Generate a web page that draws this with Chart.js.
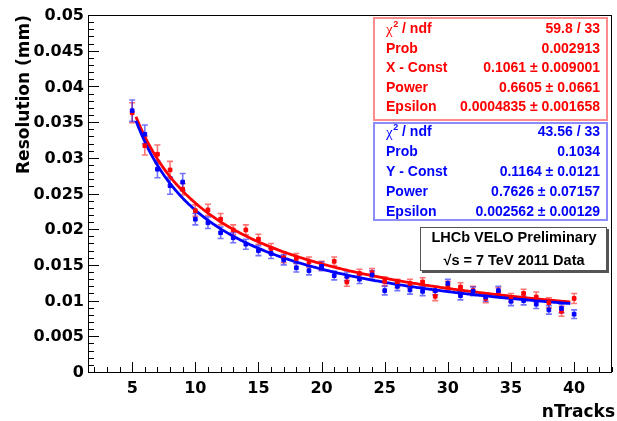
<!DOCTYPE html>
<html>
<head>
<meta charset="utf-8">
<script src="https://cdn.jsdelivr.net/npm/chart.js@4.4.1/dist/chart.umd.min.js"></script>
<style>
  html, body { margin: 0; padding: 0; background: #ffffff; }
  #c { display: block; }
</style>
</head>
<body>
<canvas id="c" width="617" height="421"></canvas>
<script>
// Track multiplicity per bin
const nTracks = [5, 6, 7, 8, 9, 10, 11, 12, 13, 14, 15, 16, 17, 18, 19, 20, 21, 22,
                 23, 24, 25, 26, 27, 28, 29, 30, 31, 32, 33, 34, 35, 36, 37, 38, 39, 40];

// X resolution (mm) and its uncertainty
const resX = [0.0363, 0.0317, 0.0305, 0.0283, 0.0256, 0.0226, 0.0227, 0.0214, 0.0199, 0.0199,
              0.0186, 0.0173, 0.0160, 0.0159, 0.0154, 0.0149, 0.0155, 0.0126, 0.0138, 0.0139,
              0.0127, 0.0124, 0.0124, 0.0126, 0.0106, 0.0121, 0.0119, 0.0114, 0.0103, 0.0112,
              0.0104, 0.0110, 0.0105, 0.0097, 0.0085, 0.0103];
const errX = [0.0014, 0.0013, 0.0013, 0.0012, 0.0008, 0.0008, 0.0008, 0.0008, 0.0007, 0.0007,
              0.0007, 0.0007, 0.0007, 0.0007, 0.0007, 0.0006, 0.0006, 0.0006, 0.0006, 0.0006,
              0.0006, 0.0006, 0.0006, 0.0006, 0.0006, 0.0006, 0.0006, 0.0006, 0.0006, 0.0006,
              0.0006, 0.0006, 0.0007, 0.0007, 0.0007, 0.0007];

// Y resolution (mm) and its uncertainty
const resY = [0.0366, 0.0333, 0.0284, 0.0261, 0.0266, 0.0214, 0.0209, 0.0195, 0.0188, 0.0179,
              0.0170, 0.0166, 0.0157, 0.0146, 0.0142, 0.0148, 0.0135, 0.0134, 0.0130, 0.0136,
              0.0114, 0.0120, 0.0115, 0.0113, 0.0114, 0.0124, 0.0107, 0.0113, 0.0105, 0.0114,
              0.0099, 0.0100, 0.0095, 0.0087, 0.0089, 0.0081];
const errY = [0.0015, 0.0013, 0.0012, 0.0012, 0.0012, 0.0008, 0.0008, 0.0008, 0.0007, 0.0007,
              0.0007, 0.0007, 0.0007, 0.0006, 0.0006, 0.0006, 0.0006, 0.0006, 0.0006, 0.0006,
              0.0006, 0.0006, 0.0006, 0.0006, 0.0006, 0.0006, 0.0006, 0.0006, 0.0006, 0.0006,
              0.0006, 0.0006, 0.0006, 0.0006, 0.0006, 0.0006];

// Axis ticks and labels
const xTicks = [5, 10, 15, 20, 25, 30, 35, 40];
const yTicks = [0, 0.005, 0.01, 0.015, 0.02, 0.025, 0.03, 0.035, 0.04, 0.045, 0.05];
const yTickLabels = ['0', '0.005', '0.01', '0.015', '0.02', '0.025', '0.03', '0.035', '0.04', '0.045', '0.05'];

// Fit results: sigma(n) = Const * n^(-Power) + Epsilon
const fitX = { chi2: '59.8 / 33', prob: '0.002913', c: 0.1061, cErr: 0.009001, p: 0.6605, pErr: 0.0661, e: 0.0004835, eErr: 0.001658 };
const fitY = { chi2: '43.56 / 33', prob: '0.1034', c: 0.1164, cErr: 0.0121, p: 0.7626, pErr: 0.07157, e: 0.002562, eErr: 0.00129 };
const fitRange = [5.3, 39.7];

const RED = '#ff0000';
const BLUE = '#0000ff';

function fitCurve(f) {
  const pts = [];
  for (let x = fitRange[0]; x <= fitRange[1] + 1e-9; x += 0.1) {
    pts.push({ x: x, y: f.c * Math.pow(x, -f.p) + f.e });
  }
  return pts;
}
function points(vals) {
  return nTracks.map((n, i) => ({ x: n, y: vals[i] }));
}

// Vertical error bars with end caps
const errorBars = {
  id: 'errorBars',
  beforeDatasetsDraw(chart) {
    const ctx = chart.ctx, xs = chart.scales.x, ys = chart.scales.y;
    const series = [[resX, errX, 'rgba(255,0,0,0.55)'], [resY, errY, 'rgba(0,0,255,0.55)']];
    ctx.save();
    ctx.lineWidth = 1.6;
    for (const [vals, errs, col] of series) {
      ctx.strokeStyle = col;
      nTracks.forEach((n, i) => {
        const px = xs.getPixelForValue(n);
        const y1 = ys.getPixelForValue(vals[i] - errs[i]);
        const y2 = ys.getPixelForValue(vals[i] + errs[i]);
        ctx.beginPath();
        ctx.moveTo(px, y1); ctx.lineTo(px, y2);
        ctx.moveTo(px - 3, y1); ctx.lineTo(px + 3, y1);
        ctx.moveTo(px - 3, y2); ctx.lineTo(px + 3, y2);
        ctx.stroke();
      });
    }
    ctx.restore();
  }
};

function pmText(v, err) { return v + ' \u00b1 ' + err; }

// Frame, axes, tick labels, titles and text boxes
const decorations = {
  id: 'decorations',
  afterDraw(chart) {
    const ctx = chart.ctx, xs = chart.scales.x, ys = chart.scales.y;
    const a = chart.chartArea;
    ctx.save();

    // frame
    ctx.strokeStyle = '#000';
    ctx.lineWidth = 1;
    ctx.strokeRect(Math.round(a.left) + 0.5, Math.round(a.top) + 0.5,
                   Math.round(a.right - a.left) - 1, Math.round(a.bottom - a.top));

    // x ticks (inward)
    ctx.beginPath();
    for (let v = 2; v <= 43; v++) {
      const px = Math.round(xs.getPixelForValue(v)) + 0.5;
      const len = xTicks.includes(v) ? 10 : 5;
      ctx.moveTo(px, a.bottom); ctx.lineTo(px, a.bottom - len);
    }
    // y ticks (inward)
    for (let k = 0; k <= 50; k++) {
      const v = k * 0.001;
      const py = Math.round(ys.getPixelForValue(v)) + 0.5;
      const len = k % 5 === 0 ? 11 : 6;
      ctx.moveTo(a.left, py); ctx.lineTo(a.left + len, py);
    }
    ctx.stroke();

    // tick labels
    ctx.fillStyle = '#000';
    ctx.font = 'bold 16px "DejaVu Sans"';
    ctx.textAlign = 'center';
    ctx.textBaseline = 'middle';
    xTicks.forEach(v => ctx.fillText(String(v), xs.getPixelForValue(v), 389));
    ctx.textAlign = 'right';
    yTicks.forEach((v, i) => ctx.fillText(yTickLabels[i], 84, ys.getPixelForValue(v) + 1));

    // axis titles
    ctx.font = 'bold 17px "DejaVu Sans"';
    ctx.textAlign = 'right';
    ctx.fillText('nTracks', 615, 413);
    ctx.save();
    ctx.translate(25, 15);
    ctx.rotate(-Math.PI / 2);
    ctx.textAlign = 'right';
    ctx.fillText('Resolution (mm)', 0, 0);
    ctx.restore();

    // fit statistics boxes
    drawStatBox(ctx, 373, 17, 235, 104, RED, 'rgba(255,0,0,0.45)', 'X - Const', fitX, [29, 49, 68.5, 88, 107.5]);
    drawStatBox(ctx, 373, 122, 235, 99, BLUE, 'rgba(0,0,255,0.45)', 'Y - Const', fitY, [132, 152.5, 172.5, 192.5, 212]);

    // label box
    ctx.fillStyle = '#555';
    ctx.fillRect(422, 229, 187, 44);
    ctx.fillStyle = '#fff';
    ctx.fillRect(420, 227, 187, 44);
    ctx.strokeStyle = '#555';
    ctx.lineWidth = 1;
    ctx.strokeRect(420.5, 227.5, 186, 43);
    ctx.fillStyle = '#000';
    ctx.font = 'bold 14.5px "Liberation Sans"';
    ctx.textAlign = 'center';
    ctx.textBaseline = 'middle';
    ctx.fillText('LHCb VELO Preliminary', 514, 237.5);
    ctx.fillText('\u221As = 7 TeV 2011 Data', 514, 260.5);

    ctx.restore();
  }
};

function drawStatBox(ctx, x, y, w, h, col, border, constName, f, rows) {
  ctx.fillStyle = '#fff';
  ctx.fillRect(x, y, w, h);
  ctx.strokeStyle = border;
  ctx.lineWidth = 2;
  ctx.strokeRect(x + 1, y + 1, w - 2, h - 2);
  ctx.fillStyle = col;
  ctx.textBaseline = 'middle';
  const lx = x + 13, rx = x + w - 8;
  // chi2 / ndf label
  ctx.textAlign = 'left';
  ctx.font = '15px "Liberation Serif"';
  ctx.fillText('\u03c7', lx, rows[0] + 1);
  let cx = lx + ctx.measureText('\u03c7').width + 0.5;
  ctx.font = 'bold 9px "Liberation Sans"';
  ctx.fillText('2', cx, rows[0] - 4);
  cx += ctx.measureText('2').width;
  ctx.font = 'bold 14px "Liberation Sans"';
  ctx.fillText(' / ndf', cx, rows[0]);
  const labels = [null, 'Prob', constName, 'Power', 'Epsilon'];
  for (let i = 1; i < 5; i++) ctx.fillText(labels[i], lx, rows[i]);
  const values = [f.chi2, f.prob, pmText(f.c, f.cErr), pmText(f.p, f.pErr), pmText(f.e, f.eErr)];
  ctx.textAlign = 'right';
  values.forEach((s, i) => ctx.fillText(s, rx, rows[i]));
}

new Chart(document.getElementById('c'), {
  type: 'scatter',
  data: {
    datasets: [
      { label: 'Y', data: points(resY), pointStyle: 'rect', pointRadius: 2.6, borderWidth: 1,
        backgroundColor: BLUE, borderColor: BLUE, showLine: false, order: 0 },
      { label: 'X', data: points(resX), pointStyle: 'rect', pointRadius: 2.6, borderWidth: 1,
        backgroundColor: RED, borderColor: RED, showLine: false, order: 0 },
      { label: 'fit Y', data: fitCurve(fitY), showLine: true, borderColor: BLUE, borderWidth: 2.8,
        pointRadius: 0, tension: 0, order: 1 },
      { label: 'fit X', data: fitCurve(fitX), showLine: true, borderColor: RED, borderWidth: 2.8,
        pointRadius: 0, tension: 0, order: 2 }
    ]
  },
  options: {
    responsive: false,
    animation: false,
    events: [],
    layout: { padding: { left: 88, top: 15, right: 5, bottom: 49 } },
    plugins: { legend: { display: false }, tooltip: { enabled: false } },
    scales: {
      x: { type: 'linear', min: 1.5, max: 43, display: false },
      y: { type: 'linear', min: 0, max: 0.05, display: false }
    }
  },
  plugins: [errorBars, decorations]
});
</script>
</body>
</html>
